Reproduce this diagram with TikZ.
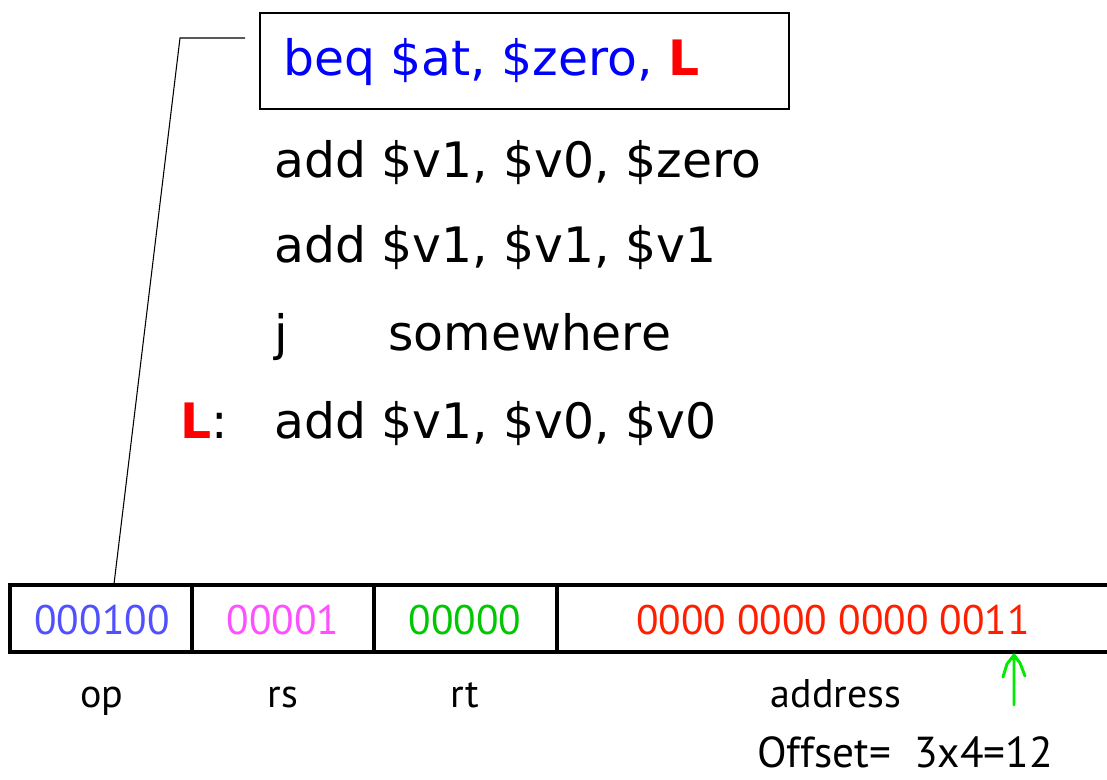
\documentclass[tikz,border=0pt]{standalone}
\usepackage{fontspec}
\setmainfont{DejaVu Sans}
\newfontfamily\tablefont{PT Sans}
\definecolor{codeblue}{RGB}{0,0,255}
\definecolor{lblred}{RGB}{255,0,0}
\definecolor{opblue}{RGB}{80,80,255}
\definecolor{rsmag}{RGB}{255,80,255}
\definecolor{rtgreen}{RGB}{0,200,0}
\definecolor{addrred}{RGB}{255,30,0}
\definecolor{markgreen}{RGB}{0,235,0}
\begin{document}
\begin{tikzpicture}[x=0.75pt,y=-0.75pt,
  code/.style={anchor=base west,inner sep=0pt,font=\fontsize{36.6}{40}\selectfont},
  field/.style={inner sep=0pt,font=\tablefont\fontsize{31}{34}\selectfont},
  fieldname/.style={anchor=base,inner sep=0pt,font=\tablefont\fontsize{30}{34}\selectfont},
  frame/.style={line width=2.8pt}]
\useasboundingbox (0,0) rectangle (1107,779);
\fill[white] (0,0) rectangle (1107,779);

% boxed branch instruction
\node[draw,line width=0.9pt,minimum width=529*0.75pt,minimum height=96*0.75pt,inner sep=0pt]
  (beqbox) at (524.5,61) {};
\node[code,text=codeblue] (beq) at (283,75) {beq \$at, \$zero, \textcolor{lblred}{\textbf{L}}};

% following instructions
\node[code] (add1) at (274,177) {add \$v1, \$v0, \$zero};
\node[code] (add2) at (274,262) {add \$v1, \$v1, \$v1};
\node[code] (jmp) at (274,350) {j};
\node[code] (target) at (388,350) {somewhere};
\node[code] (lbl) at (180,438) {\textcolor{lblred}{\textbf{L}}:};
\node[code] (add3) at (274,438) {add \$v1, \$v0, \$v0};

% instruction word fields
\draw[frame] (1112,585) -- (10,585) -- (10,652) -- (1112,652);
\draw[frame] (192,585) -- (192,652);
\draw[frame] (374,585) -- (374,652);
\draw[frame] (557,585) -- (557,652);
\node[field,text=opblue]   (op)   at (102,620) {000100};
\node[field,text=rsmag]    (rs)   at (283,620) {00001};
\node[field,text=rtgreen]  (rt)   at (465,620) {00000};
\node[field,text=addrred]  (addr) at (833,620) {0000 0000 0000 0011};
\node[fieldname] (opn)   at (102,707) {op};
\node[fieldname] (rsn)   at (283,707) {rs};
\node[fieldname] (rtn)   at (465,707) {rt};
\node[fieldname] (addrn) at (836,707) {address};
\node[fieldname,font=\tablefont\fontsize{32.5}{36}\selectfont] (offs) at (905,767) {Offset=\ \ 3x4=12};

% leader from the boxed instruction down to the op field
\coordinate (lead0) at (245,38);
\coordinate (lead1) at (180,38);
\coordinate (lead2) at (114,584);
\draw[line width=0.8pt] (lead0) -- (lead1) -- (lead2);

% hand-drawn marker under the last offset bit
\coordinate (mk0) at (1014,705);
\coordinate (mk1) at (1014,655);
\draw[markgreen,line width=2.2pt,line cap=round,line join=round]
  (mk0) -- (mk1)
  (1003,677) -- (1007,664) -- (mk1) -- (1020,663) -- (1025,676);
\end{tikzpicture}
\end{document}
